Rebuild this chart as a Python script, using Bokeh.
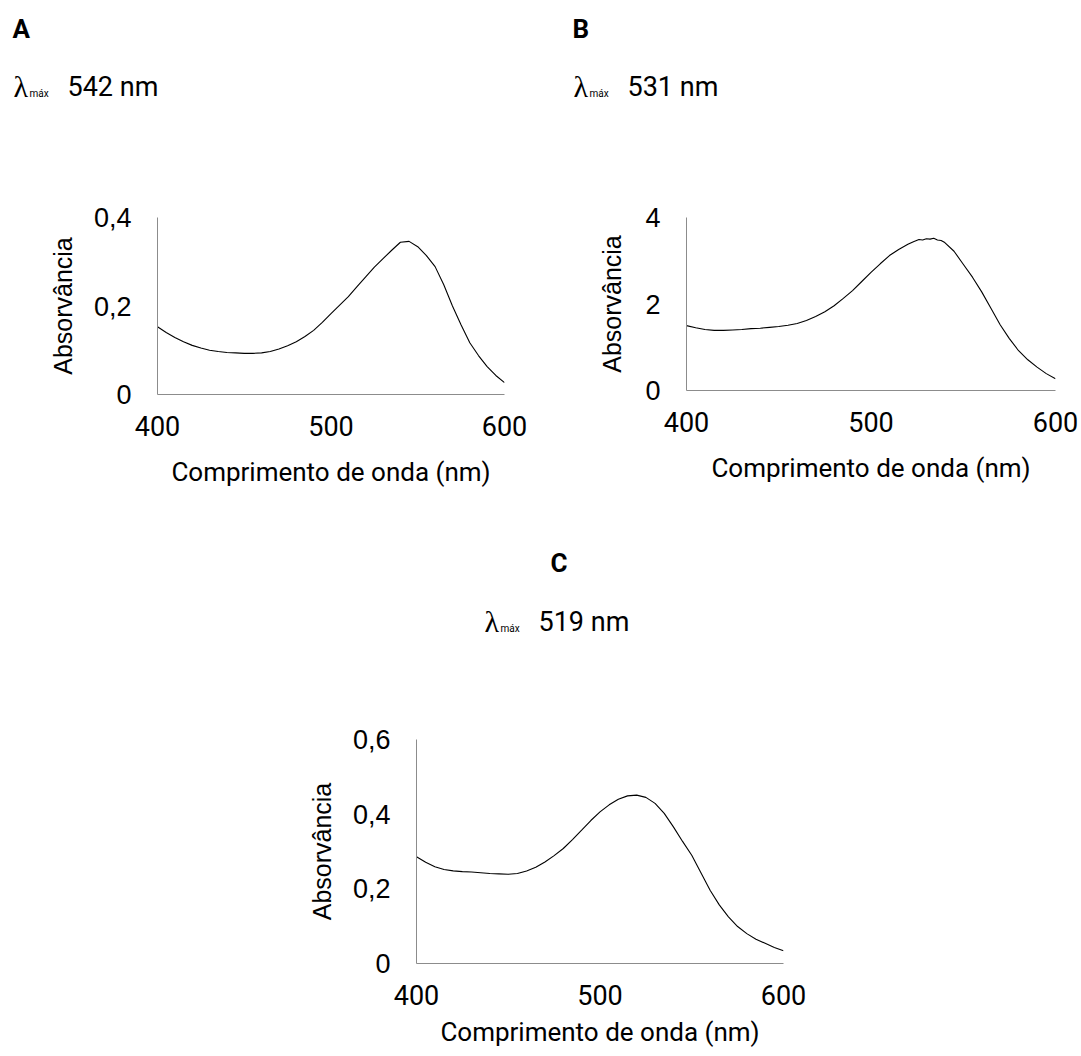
from bokeh.plotting import figure
from bokeh.layouts import column, row
from bokeh.models import Range1d, FixedTicker, CustomJSTickFormatter
from bokeh.core.properties import value
from bokeh.embed import file_html
from bokeh.resources import INLINE

# ---------------- data ----------------
wl_a = [400, 405, 410, 415, 420, 425, 430, 435, 440, 445, 450, 455, 460, 465, 470,
        475, 480, 485, 490, 495, 500, 505, 510, 515, 520, 525, 530, 535, 540, 545,
        550, 555, 560, 565, 570, 575, 580, 585, 590, 595, 600]
abs_a = [0.153, 0.140, 0.129, 0.119, 0.111, 0.105, 0.100, 0.097, 0.095, 0.094, 0.093,
         0.093, 0.094, 0.097, 0.103, 0.110, 0.119, 0.131, 0.145, 0.163, 0.183, 0.202,
         0.221, 0.244, 0.266, 0.288, 0.307, 0.326, 0.344, 0.346, 0.334, 0.314, 0.289,
         0.248, 0.200, 0.157, 0.117, 0.088, 0.063, 0.043, 0.027]

wl_b = [400, 405, 410, 415, 420, 425, 430, 435, 440, 445, 450, 455, 460, 465, 470,
        475, 480, 485, 490, 495, 500, 505, 510, 515, 520, 523, 526, 528, 530, 532,
        534, 536, 538, 540, 545, 550, 555, 560, 565, 570, 575, 580, 585, 590, 595, 600]
abs_b = [1.50, 1.45, 1.41, 1.39, 1.39, 1.40, 1.41, 1.43, 1.44, 1.46, 1.48, 1.51, 1.55,
         1.62, 1.71, 1.82, 1.96, 2.13, 2.31, 2.52, 2.73, 2.93, 3.12, 3.26, 3.38, 3.44,
         3.49, 3.48, 3.51, 3.50, 3.52, 3.48, 3.47, 3.42, 3.22, 2.92, 2.62, 2.28, 1.90,
         1.52, 1.20, 0.92, 0.71, 0.54, 0.39, 0.27]

wl_c = [400, 405, 410, 415, 420, 425, 430, 435, 440, 445, 450, 455, 460, 465, 470,
        475, 480, 485, 490, 495, 500, 505, 510, 515, 520, 525, 530, 535, 540, 545,
        550, 555, 560, 565, 570, 575, 580, 585, 590, 595, 600]
abs_c = [0.286, 0.271, 0.259, 0.252, 0.248, 0.246, 0.245, 0.243, 0.241, 0.240, 0.239,
         0.241, 0.248, 0.258, 0.272, 0.289, 0.308, 0.332, 0.357, 0.383, 0.406, 0.425,
         0.440, 0.449, 0.451, 0.445, 0.429, 0.402, 0.366, 0.327, 0.290, 0.243, 0.196,
         0.157, 0.125, 0.099, 0.080, 0.065, 0.054, 0.043, 0.034]

x_ticks = [400, 500, 600]
y_ticks_a = [0, 0.2, 0.4]
y_ticks_b = [0, 2, 4]
y_ticks_c = [0, 0.2, 0.4, 0.6]

panel_letters = ["A", "B", "C"]
lambda_max = ["542 nm", "531 nm", "519 nm"]
lambda_sym = "λ"
lambda_sub = "máx"
x_title = "Comprimento de onda (nm)"
y_title = "Absorvância"

AXIS_COLOR = "#8c8c8c"
PAGE_W = 1081


def make_panel(wl, ab, ymax, yticks, fw, fh, bl, br, bt, bb, ylab_standoff,
               xlab_standoff):
    p = figure(frame_width=fw, frame_height=fh,
               min_border_left=bl, min_border_right=br,
               min_border_top=bt, min_border_bottom=bb,
               x_range=Range1d(400, 600), y_range=Range1d(0, ymax),
               output_backend="svg", toolbar_location=None)
    p.line(wl, ab, line_color="black", line_width=1.1)
    p.grid.visible = False
    p.outline_line_color = None
    p.background_fill_color = "white"
    p.border_fill_color = "white"

    xa = p.xaxis[0]
    xa.ticker = FixedTicker(ticks=x_ticks)
    xa.axis_line_color = AXIS_COLOR
    xa.major_tick_out = 0
    xa.major_tick_in = 0
    xa.minor_tick_out = 0
    xa.minor_tick_in = 0
    xa.major_label_standoff = 21
    xa.major_label_text_font = "Roboto"
    xa.major_label_text_font_size = "27px"
    xa.major_label_text_color = "black"
    xa.axis_label = x_title
    xa.axis_label_text_font = "Roboto"
    xa.axis_label_text_font_size = "26px"
    xa.axis_label_text_font_style = "normal"
    xa.axis_label_text_color = "black"
    xa.axis_label_standoff = xlab_standoff

    ya = p.yaxis[0]
    ya.ticker = FixedTicker(ticks=yticks)
    ya.formatter = CustomJSTickFormatter(
        code="return (Math.round(tick*10)/10).toString().replace('.', ',');")
    ya.axis_line_color = AXIS_COLOR
    ya.major_tick_out = 0
    ya.major_tick_in = 0
    ya.minor_tick_out = 0
    ya.minor_tick_in = 0
    ya.major_label_standoff = 26
    ya.major_label_text_font = "Liberation Sans"
    ya.major_label_text_font_size = "27px"
    ya.major_label_text_color = "black"
    ya.axis_label = y_title
    ya.axis_label_text_font = "Liberation Sans"
    ya.axis_label_text_font_size = "25px"
    ya.axis_label_text_font_style = "normal"
    ya.axis_label_text_color = "black"
    ya.axis_label_standoff = ylab_standoff
    return p


def make_header(height, items):
    """items: list of (letter_xy, lambda_xy, letter, value_text); xy = glyph baseline px."""
    h = figure(frame_width=PAGE_W, frame_height=height,
               min_border_left=0, min_border_right=0,
               min_border_top=0, min_border_bottom=0,
               x_range=Range1d(0, PAGE_W), y_range=Range1d(height, 0),
               x_axis_type=None, y_axis_type=None,
               output_backend="svg", toolbar_location=None)
    h.grid.visible = False
    h.outline_line_color = None
    h.background_fill_color = "white"
    h.border_fill_color = "white"

    def txt(x, y, s, font, size, style="normal"):
        # baseline correction for the renderer's alphabetic placement
        h.text(x=[x], y=[y - 0.38 * size], text=[s], text_font=value(font),
               text_font_size=value(f"{size}px"), text_font_style=style,
               text_color="black", text_baseline="alphabetic", text_align="left")

    for (lx, ly), (mx, my), letter, val in items:
        txt(lx, ly, letter, "Roboto", 26, "bold")
        txt(mx, my, lambda_sym, "Liberation Serif", 30)
        txt(mx + 16, my, lambda_sub, "Roboto", 10)
        txt(mx + 54, my, val, "Roboto", 27)
    return h


# header for A and B: page y 0..110
hdr1 = make_header(110, [((12, 38), (13, 97), panel_letters[0], lambda_max[0]),
                         ((572, 38), (573, 97), panel_letters[1], lambda_max[1])])

# plots row: page y 110..530
pA = make_panel(wl_a, abs_a, 0.4, y_ticks_a, 347, 177, 157, 41, 101, 142, 14, 18)
pB = make_panel(wl_b, abs_b, 4, y_ticks_b, 369, 173, 141, 26, 107, 140, 16, 18)

# header for C: page y 530..660
hdr2 = make_header(130, [((550, 42), (484, 102), panel_letters[2], lambda_max[2])])

# plot C: page y 660..1055
pC = make_panel(wl_c, abs_c, 0.6, y_ticks_c, 367, 224, 416, 298, 79, 92, 14, 9)

layout = column(row(hdr1), row(pA, pB), row(hdr2), row(pC))

open("out.html", "w").write(file_html(layout, INLINE))
